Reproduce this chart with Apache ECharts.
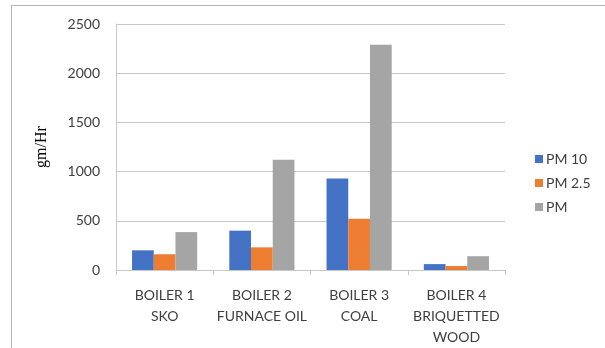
<!DOCTYPE html>
<html lang="en">
<head>
    <meta charset="utf-8">
    <title>gm/Hr</title>
    <script src="https://cdn.jsdelivr.net/npm/echarts@6/dist/echarts.min.js"></script>
    <style>
        html, body { margin: 0; padding: 0; background: #fff; }
        #container { width: 605px; height: 348px; }
    </style>
</head>
<body>
<div id="container"></div>
<script type="text/javascript">
    var categories = ['BOILER 1\nSKO', 'BOILER 2\nFURNACE OIL', 'BOILER 3\nCOAL', 'BOILER 4\nBRIQUETTED\nWOOD'];
    var pm10 = [200, 400, 930, 60];
    var pm25 = [160, 230, 520, 40];
    var pm = [385, 1120, 2290, 140];

    var myChart = echarts.init(document.getElementById('container'), null, { renderer: 'canvas' });

    var labelFont = 'Lato, "Open Sans", sans-serif';

    var option = {
        animation: false,
        backgroundColor: '#fff',
        graphic: [
            // outer frame, only top and left edges are visible
            { type: 'line', shape: { x1: 11, y1: 5.5, x2: 605, y2: 5.5 }, style: { stroke: '#b4b4b4', lineWidth: 1 } },
            { type: 'line', shape: { x1: 11.5, y1: 5, x2: 11.5, y2: 348 }, style: { stroke: '#b4b4b4', lineWidth: 1 } }
        ],
        grid: { left: 116, right: 100, top: 24, bottom: 75, containLabel: false },
        legend: {
            orient: 'vertical',
            left: 530,
            top: 147,
            itemWidth: 8,
            itemHeight: 8,
            itemGap: 10,
            icon: 'rect',
            textStyle: { fontFamily: labelFont, fontSize: 14, color: '#404040', padding: [0, 0, 0, -2] },
            data: ['PM 10', 'PM 2.5', 'PM']
        },
        xAxis: {
            type: 'category',
            data: categories,
            axisLine: { lineStyle: { color: '#c8c8c8' } },
            axisTick: { show: true, length: 5, lineStyle: { color: '#c8c8c8' } },
            axisLabel: { fontFamily: labelFont, fontSize: 14, color: '#404040', lineHeight: 21, margin: 15, interval: 0 }
        },
        yAxis: {
            type: 'value',
            min: 0,
            max: 2500,
            interval: 500,
            name: 'gm/Hr',
            nameLocation: 'middle',
            nameGap: 66,
            nameTextStyle: { fontFamily: '"Liberation Serif", "DejaVu Serif", serif', fontSize: 16, color: '#000' },
            axisLine: { show: true, lineStyle: { color: '#c8c8c8' } },
            axisTick: { show: false },
            splitLine: { lineStyle: { color: '#c8c8c8' } },
            axisLabel: { fontFamily: labelFont, fontSize: 14, color: '#404040', margin: 16, formatter: function (v) { return String(v); } }
        },
        series: [
            { name: 'PM 10', type: 'bar', data: pm10, itemStyle: { color: '#4472c4' }, barGap: '0%', barCategoryGap: '33%' },
            { name: 'PM 2.5', type: 'bar', data: pm25, itemStyle: { color: '#ed7d31' } },
            { name: 'PM', type: 'bar', data: pm, itemStyle: { color: '#a5a5a5' } }
        ]
    };

    myChart.setOption(option);
</script>
</body>
</html>
